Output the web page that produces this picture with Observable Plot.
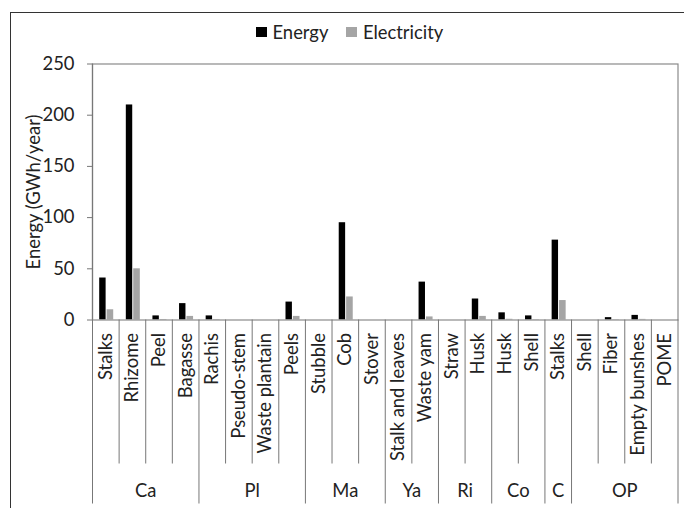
<!DOCTYPE html>
<html><head><meta charset="utf-8">
<script src="https://cdn.jsdelivr.net/npm/d3@7"></script>
<script src="https://cdn.jsdelivr.net/npm/@observablehq/plot@0.6"></script>
<style>
body{margin:0;background:#fff;font-family:Lato,sans-serif;}
#wrap{position:relative;width:684px;height:508px;overflow:hidden;}
#chart{position:absolute;left:0;top:0;}
#frame{position:absolute;left:10px;top:12px;width:700px;height:520px;border:1.3px solid #333;box-sizing:border-box;}
#legend{position:absolute;top:22px;left:256px;display:flex;align-items:center;font-size:18.4px;color:#222;line-height:20px;white-space:nowrap;}
.sw{width:10.5px;height:10.5px;display:inline-block;margin-right:6px;}
</style></head><body>
<div id="wrap"><div id="chart"></div><div id="frame"></div><div id="legend"></div></div>
<script>
const groups = ["Ca", "Pl", "Ma", "Ya", "Ri", "Co", "C", "OP"];
const groupSizes = [4, 4, 3, 2, 2, 2, 1, 4];
const categories = ["Stalks", "Rhizome", "Peel", "Bagasse",
  "Rachis", "Pseudo-stem", "Waste plantain", "Peels",
  "Stubble", "Cob", "Stover",
  "Stalk and leaves", "Waste yam",
  "Straw", "Husk",
  "Husk", "Shell",
  "Stalks",
  "Shell", "Fiber", "Empty bunshes", "POME"];
const energy =      [41, 210, 4, 16,  4, 0, 0, 17.5,  0, 95, 0,  0, 37,  0, 20.5,  7, 4,  78,  0, 2.3, 4.5, 0];
const electricity = [10, 50, 0.5, 3.5, 0.5, 0, 0, 3.5,  0, 22.5, 0,  0, 3,  0, 3.5,  0.7, 0.3,  19,  0, 0.3, 0.6, 0];
const yTicks = [0, 50, 100, 150, 200, 250];
const seriesNames = ["Energy", "Electricity"];
const seriesColors = ["#000000", "#a5a5a5"];

const rows = categories.map((name, i) => ({i, name, energy: energy[i], electricity: electricity[i]}));
const groupEdges = [0];
groupSizes.forEach(s => groupEdges.push(groupEdges[groupEdges.length - 1] + s));
const innerEdges = d3.range(1, categories.length).filter(k => !groupEdges.includes(k));
const groupCenters = groups.map((g, j) => (groupEdges[j] + groupEdges[j + 1]) / 2);
const centerName = new Map(groupCenters.map((c, j) => [c, groups[j]]));
const catCenters = categories.map((c, i) => i + 0.5);

const FS = 18.4;
const chart = Plot.plot({
  width: 684,
  height: 508,
  marginLeft: 92,
  marginRight: 6.5,
  marginTop: 63.5,
  marginBottom: 188.5,
  style: {fontFamily: "Lato, sans-serif", fontSize: FS + "px", background: "transparent", color: "#222"},
  x: {type: "linear", domain: [0, categories.length]},
  y: {domain: [0, 250]},
  marks: [
    Plot.rectY(rows, {x1: d => d.i, x2: d => d.i + 1, y: "energy", fill: seriesColors[0], insetLeft: 7.2, insetRight: 13}),
    Plot.rectY(rows, {x1: d => d.i, x2: d => d.i + 1, y: "electricity", fill: seriesColors[1], insetLeft: 14.6, insetRight: 5.4}),
    Plot.frame({stroke: "#8a8a8a", strokeWidth: 1.2}),
    Plot.ruleX([0], {stroke: "#777", strokeWidth: 1.2}),
    Plot.axisY({ticks: yTicks, tickSize: 5, tickPadding: 13, fontSize: FS, stroke: "#777",
      label: "Energy (GWh/year)", labelAnchor: "center", labelArrow: "none", labelOffset: 66}),
    Plot.axisX({ticks: innerEdges, tickSize: 144, tickFormat: () => "", stroke: "#777"}),
    Plot.axisX({ticks: groupEdges, tickSize: 184, tickFormat: () => "", stroke: "#777"}),
    Plot.axisX({ticks: catCenters, tickSize: 0, tickPadding: 13, tickRotate: -90, fontSize: FS,
      tickFormat: d => categories[Math.floor(d)], label: null}),
    Plot.axisX({ticks: groupCenters, tickSize: 0, tickPadding: 164, fontSize: FS,
      tickFormat: d => centerName.get(d), label: null})
  ]
});
document.getElementById("chart").appendChild(chart);

const legend = document.getElementById("legend");
seriesNames.forEach((n, k) => {
  const item = document.createElement("span");
  item.style.display = "inline-flex";
  item.style.alignItems = "center";
  item.style.marginRight = k === 0 ? "18px" : "0";
  item.innerHTML = `<span class="sw" style="background:${seriesColors[k]}"></span>${n}`;
  legend.appendChild(item);
});
</script>
</body></html>
